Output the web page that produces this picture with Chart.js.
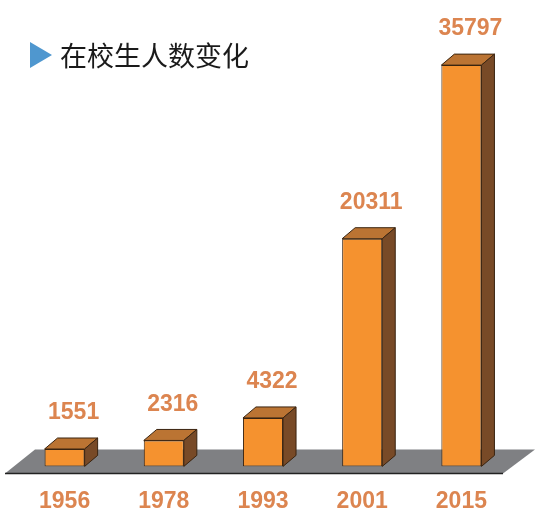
<!DOCTYPE html>
<html>
<head>
<meta charset="utf-8">
<script src="https://cdn.jsdelivr.net/npm/chart.js@4/dist/chart.umd.min.js"></script>
<style>
  body { margin: 0; background: #fff; }
  #wrap { position: relative; width: 542px; height: 516px; }
  #title {
    position: absolute; left: 30px; top: 38px;
    display: flex; align-items: center;
    font-family: "Noto Sans CJK SC", sans-serif; font-size: 27px; color: #1a1a1a;
    line-height: 34px;
  }
  #title .tri {
    width: 0; height: 0; margin-right: 8px;
    border-top: 13px solid transparent; border-bottom: 13px solid transparent;
    border-left: 22px solid #4f97cf;
  }
</style>
</head>
<body>
<div id="wrap">
  <canvas id="bars"></canvas>
  <div id="title"><span class="tri"></span>在校生人数变化</div>
</div>
<script>
const years = ["1956", "1978", "1993", "2001", "2015"];
const students = [1551, 2316, 4322, 20311, 35797];

const labelColor = "#dc8550";
const depthX = 13;
const depthY = 11;

// grey floor under the bars
const floorPlugin = {
  id: "floor",
  beforeDatasetsDraw(chart) {
    const { ctx, chartArea } = chart;
    const base = chart.scales.y.getPixelForValue(0);
    const frontY = base + 7, backY = base - 17;
    ctx.save();
    ctx.beginPath();
    ctx.moveTo(chartArea.left - 10, frontY);
    ctx.lineTo(chartArea.right - 8, frontY);
    ctx.lineTo(chartArea.right + 24, backY);
    ctx.lineTo(chartArea.left + 20, backY);
    ctx.closePath();
    ctx.fillStyle = "#7f8083";
    ctx.fill();
    ctx.beginPath();
    ctx.moveTo(chartArea.left - 10, frontY);
    ctx.lineTo(chartArea.right - 8, frontY);
    ctx.strokeStyle = "#222";
    ctx.lineWidth = 1.5;
    ctx.stroke();
    ctx.restore();
  }
};

// top and side faces + value labels
const boxPlugin = {
  id: "box3d",
  afterDatasetsDraw(chart) {
    const { ctx } = chart;
    const meta = chart.getDatasetMeta(0);
    ctx.save();
    ctx.lineWidth = 1;
    ctx.strokeStyle = "#3a2410";
    meta.data.forEach((bar, i) => {
      const l = bar.x - bar.width / 2, r = bar.x + bar.width / 2;
      const top = bar.y, base = bar.base;
      // top
      ctx.beginPath();
      ctx.moveTo(l, top);
      ctx.lineTo(l + depthX, top - depthY);
      ctx.lineTo(r + depthX, top - depthY);
      ctx.lineTo(r, top);
      ctx.closePath();
      ctx.fillStyle = "#bb7433";
      ctx.fill();
      ctx.stroke();
      // side
      ctx.beginPath();
      ctx.moveTo(r, top);
      ctx.lineTo(r + depthX, top - depthY);
      ctx.lineTo(r + depthX, base - depthY);
      ctx.lineTo(r, base);
      ctx.closePath();
      ctx.fillStyle = "#784a27";
      ctx.fill();
      ctx.stroke();
      // value
      ctx.fillStyle = labelColor;
      ctx.font = "bold 23px 'Liberation Sans', Arial, sans-serif";
      ctx.textAlign = "center";
      ctx.textBaseline = "middle";
      ctx.fillText(String(students[i]), bar.x + 9, top - 36);
    });
    ctx.restore();
  }
};

new Chart(document.getElementById("bars"), {
  type: "bar",
  data: {
    labels: years,
    datasets: [{
      data: students,
      backgroundColor: "#f5922f",
      borderColor: "#3a2410",
      borderWidth: 1,
      borderSkipped: false,
      barPercentage: 0.8,
      categoryPercentage: 0.505
    }]
  },
  options: {
    responsive: true,
    maintainAspectRatio: false,
    animation: false,
    layout: { padding: { left: 15, right: 31, top: 18, bottom: -20 } },
    plugins: { legend: { display: false }, tooltip: { enabled: false } },
    scales: {
      x: {
        grid: { display: false, drawTicks: false },
        border: { display: false },
        ticks: {
          padding: 21,
          color: labelColor,
          font: { family: "'Liberation Sans', Arial, sans-serif", size: 23, weight: "bold" }
        }
      },
      y: { display: false, min: 0, max: 40000 }
    }
  },
  plugins: [floorPlugin, boxPlugin]
});
</script>
</body>
</html>
